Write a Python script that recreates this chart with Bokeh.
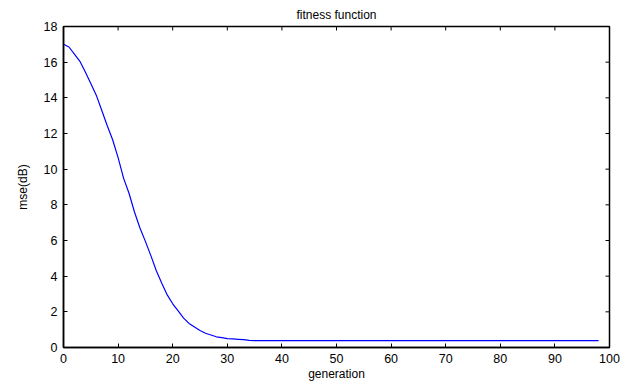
import math
from bokeh.plotting import figure
from bokeh.models import Range1d, FixedTicker
from bokeh.embed import file_html
from bokeh.resources import INLINE

generation = list(range(0, 99))
mse_db = [17.0, 16.85, 16.45, 16.05, 15.45, 14.8, 14.15, 13.3, 12.45, 11.65,
          10.65, 9.5, 8.65, 7.6, 6.7, 5.95, 5.15, 4.3, 3.6, 2.95,
          2.45, 2.05, 1.65, 1.35, 1.15, 0.95, 0.8, 0.7, 0.6, 0.55,
          0.5, 0.48, 0.46, 0.44, 0.4] + [0.38] * 64

x_ticks = [0, 10, 20, 30, 40, 50, 60, 70, 80, 90, 100]
y_ticks = [0, 2, 4, 6, 8, 10, 12, 14, 16, 18]
x_min, x_max = 0, 100
y_min, y_max = 0, 18

FONT = "Liberation Sans"

p = figure(width=623, height=383, output_backend="svg", toolbar_location=None,
           x_range=Range1d(x_min, x_max), y_range=Range1d(y_min, y_max),
           min_border_left=63, min_border_right=14, min_border_top=26,
           min_border_bottom=36, title="fitness function",
           x_axis_label="generation", y_axis_label="mse(dB)")

p.title.text_font = FONT
p.title.text_font_size = "12px"
p.title.text_font_style = "normal"
p.title.align = "center"
p.title.standoff = 9
p.title.text_color = "black"

p.xgrid.visible = False
p.ygrid.visible = False
p.outline_line_color = "black"
p.outline_line_width = 1.5
p.background_fill_color = "white"
p.border_fill_color = "white"

p.xaxis.ticker = FixedTicker(ticks=x_ticks)
p.yaxis.ticker = FixedTicker(ticks=y_ticks)

for ax in (p.xaxis[0], p.yaxis[0]):
    ax.axis_line_color = "black"
    ax.axis_line_width = 1.5
    ax.major_tick_in = 4
    ax.major_tick_out = 0
    ax.major_tick_line_color = "black"
    ax.minor_tick_line_color = None
    ax.major_label_text_font = FONT
    ax.major_label_text_font_size = "12.5px"
    ax.major_label_text_color = "black"
    ax.axis_label_text_font = FONT
    ax.axis_label_text_font_size = "12px"
    ax.axis_label_text_font_style = "normal"
    ax.axis_label_text_color = "black"

p.xaxis.major_label_standoff = 6
p.xaxis.axis_label_standoff = 1
p.yaxis.major_label_standoff = 6
p.yaxis.axis_label_standoff = 11

# inward ticks on the top and right edges of the box
p.ray(x=x_ticks, y=[y_max] * len(x_ticks), length=4, length_units="screen",
      angle=-math.pi / 2, line_color="black", line_width=1)
p.ray(x=[x_max] * len(y_ticks), y=y_ticks, length=4, length_units="screen",
      angle=math.pi, line_color="black", line_width=1)

p.line(generation, mse_db, line_color="#0000FF", line_width=1.2)

open("out.html", "w").write(file_html(p, INLINE))
